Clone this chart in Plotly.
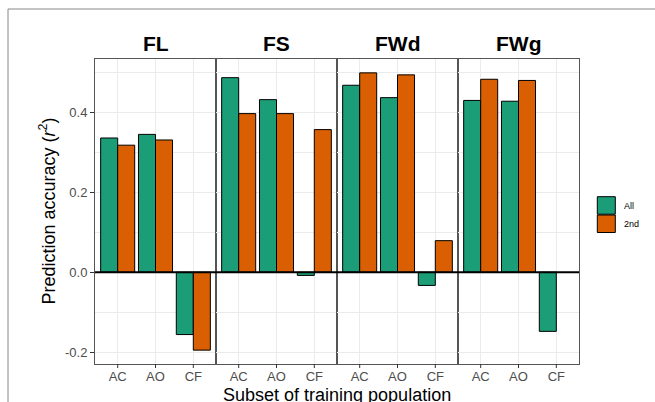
import plotly.graph_objects as go
from plotly.subplots import make_subplots

# Traits (facets) and training-population subsets (x categories)
traits = ["FL", "FS", "FWd", "FWg"]
subsets = ["AC", "AO", "CF"]

# Prediction accuracy (r^2) using all markers, per trait
all_fl = [0.336, 0.345, -0.156]
all_fs = [0.487, 0.432, -0.008]
all_fwd = [0.468, 0.437, -0.033]
all_fwg = [0.430, 0.428, -0.148]

# Prediction accuracy (r^2) using the 2nd marker set, per trait
second_fl = [0.318, 0.331, -0.195]
second_fs = [0.397, 0.397, 0.357]
second_fwd = [0.499, 0.494, 0.079]
second_fwg = [0.483, 0.480, None]

series_names = ["All", "2nd"]
series_colors = ["#1B9E77", "#D95F02"]

values_all = [all_fl, all_fs, all_fwd, all_fwg]
values_second = [second_fl, second_fs, second_fwd, second_fwg]

W, H = 655, 402
ML, MR, MT, MB = 95, 76, 59, 38
PW, PH = W - ML - MR, H - MT - MB


def px_x(x):
    return (x - ML) / PW


def px_y(y):
    return (H - MB - y) / PH


FONT = "Liberation Sans, Arial, Helvetica, sans-serif"

fig = make_subplots(rows=1, cols=4, shared_yaxes=True, horizontal_spacing=0)

for i, trait in enumerate(traits):
    col = i + 1
    suffix = "" if col == 1 else str(col)
    for name, color, vals in zip(series_names, series_colors,
                                 [values_all[i], values_second[i]]):
        fig.add_trace(
            go.Bar(
                x=subsets, y=vals, name=name,
                marker=dict(color=color, line=dict(color="black", width=1)),
                showlegend=False,
                offsetgroup=name,
            ),
            row=1, col=col,
        )
    fig.update_xaxes(
        type="category", categoryorder="array", categoryarray=subsets,
        range=[-0.6, 2.6],
        showgrid=True, gridcolor="#EBEBEB", gridwidth=1,
        showline=True, linecolor="#555555", linewidth=1, mirror=True,
        ticks="",
        tickfont=dict(family=FONT, size=13, color="#4D4D4D"),
        zeroline=False,
        row=1, col=col,
    )
    # short tick marks below the panel at each subset
    for s in subsets:
        fig.add_shape(
            type="line", xref=f"x{suffix}", yref=f"y{suffix} domain",
            x0=s, x1=s, y0=0, y1=-4 / PH,
            line=dict(color="#333333", width=1),
        )
    fig.add_annotation(
        text=f"<b>{trait}</b>", xref=f"x{suffix} domain", x=0.5,
        yref="paper", y=px_y(43.5), yanchor="middle", showarrow=False,
        font=dict(family=FONT, size=21, color="black"),
    )

fig.update_yaxes(
    range=[-0.2297, 0.5337],
    tickmode="array", tickvals=[-0.2, 0.0, 0.2, 0.4],
    ticktext=["-0.2", "0.0", "0.2", "0.4"],
    showgrid=True, gridcolor="#EBEBEB", gridwidth=1,
    minor=dict(tickvals=[-0.1, 0.1, 0.3, 0.5], showgrid=True,
               gridcolor="#EBEBEB", gridwidth=0.6, ticks=""),
    showline=True, linecolor="#555555", linewidth=1, mirror=True,
    zeroline=False,
    tickfont=dict(family=FONT, size=13, color="#4D4D4D"),
)
fig.update_yaxes(ticks="outside", ticklen=4, tickcolor="#333333",
                 tickwidth=1, row=1, col=1)

# Reference line at zero accuracy
fig.add_hline(y=0, line=dict(color="black", width=2), row="all", col="all")

# Axis titles
fig.add_annotation(
    text="Subset of training population", xref="paper", yref="paper",
    x=0.5, y=px_y(395), xanchor="center", yanchor="middle", showarrow=False,
    font=dict(family=FONT, size=18, color="black"),
)
fig.add_annotation(
    text="Prediction accuracy (<i>r</i><sup>2</sup>)", xref="paper", yref="paper",
    x=px_x(48), y=0.5, xanchor="center", yanchor="middle", textangle=-90,
    showarrow=False, font=dict(family=FONT, size=18, color="black"),
)

# Legend keys
key_tops = [196.7, 215.0]
for name, color, top in zip(series_names, series_colors, key_tops):
    fig.add_shape(
        type="rect", xref="paper", yref="paper",
        x0=px_x(597.3), x1=px_x(615.3), y0=px_y(top + 17.5), y1=px_y(top),
        fillcolor=color, line=dict(color="black", width=1),
    )
    fig.add_annotation(
        text=name, xref="paper", yref="paper", x=px_x(621.5),
        y=px_y(top + 8.8), xanchor="left", yanchor="middle", showarrow=False,
        font=dict(family=FONT, size=9, color="black"),
    )

# Outer frame
fig.add_shape(
    type="rect", xref="paper", yref="paper",
    x0=px_x(8), x1=px_x(W + 20), y0=px_y(H + 20), y1=px_y(9),
    line=dict(color="#888888", width=1), fillcolor="rgba(0,0,0,0)",
)

fig.update_layout(
    width=W, height=H,
    margin=dict(l=ML, r=MR, t=MT, b=MB),
    barmode="group", bargap=0.1, bargroupgap=0,
    plot_bgcolor="white", paper_bgcolor="white",
    showlegend=False,
    font=dict(family=FONT),
)

fig.write_html("out.html")
